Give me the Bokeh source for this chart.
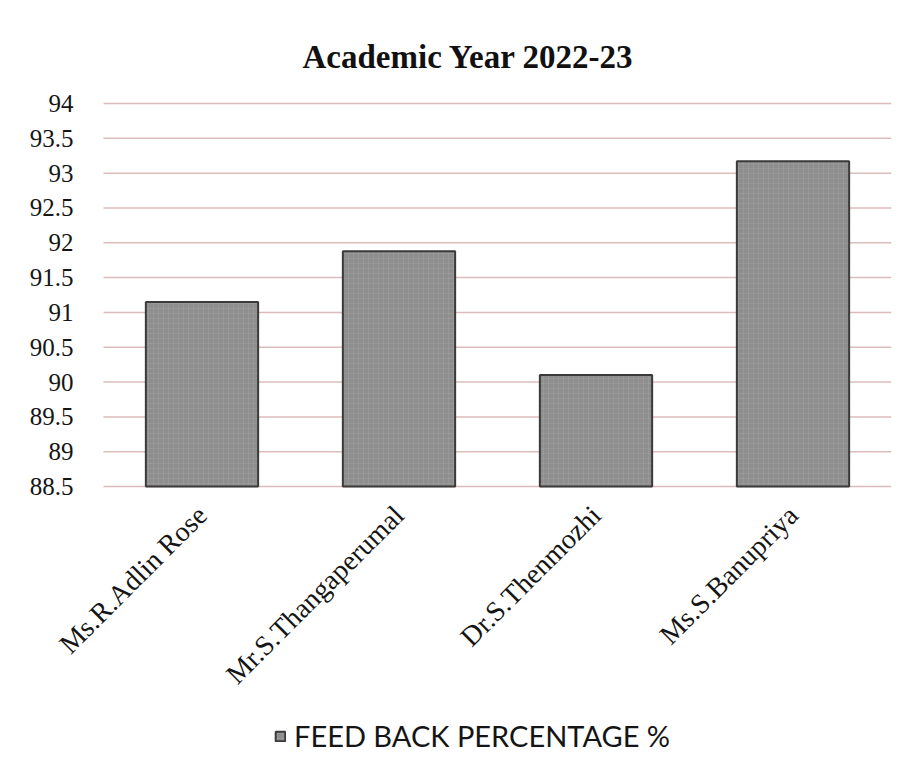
from bokeh.plotting import figure
from bokeh.models import ColumnDataSource, FixedTicker, Legend, LegendItem, Range1d
from bokeh.embed import file_html
from bokeh.resources import INLINE
from math import pi

names = ["Ms.R.Adlin Rose", "Mr.S.Thangaperumal", "Dr.S.Thenmozhi", "Ms.S.Banupriya"]
feedback = [91.15, 91.88, 90.10, 93.17]
y_ticks = [88.5, 89, 89.5, 90, 90.5, 91, 91.5, 92, 92.5, 93, 93.5, 94]
y_tick_labels = ["88.5", "89", "89.5", "90", "90.5", "91", "91.5", "92", "92.5", "93", "93.5", "94"]
series_name = "FEED BACK PERCENTAGE %"
title_text = "Academic Year 2022-23"
baseline = 88.5

# category slots: slot i is centred on i + 0.5
n = len(names)
x_pos = [i + 0.5 for i in range(n)]

# the frame covers the whole canvas (left of the first slot, above 94 and below the baseline)
# so that the tick labels, rotated labels and the legend are never clipped
x_left = -0.5228
y_top = 94.187
y_bottom = 84.623

src = ColumnDataSource(dict(x=x_pos, top=feedback, bottom=[baseline] * n))
grid_src = ColumnDataSource(dict(x0=[0] * len(y_ticks), x1=[n] * len(y_ticks), y=y_ticks))

p = figure(width=892, height=756, x_range=Range1d(x_left, n),
           y_range=Range1d(y_bottom, y_top),
           output_backend="svg", toolbar_location=None,
           min_border_left=0, min_border_right=1, min_border_top=90, min_border_bottom=0)

p.title.text = title_text
p.title.align = "left"
p.title.offset = 302
p.title.text_font = "Liberation Serif"
p.title.text_font_size = "33px"
p.title.text_font_style = "bold"
p.title.text_color = "#111111"
p.title.standoff = 32

# horizontal grid lines over the category span only
p.segment(x0="x0", x1="x1", y0="y", y1="y", source=grid_src,
          line_color="#dcbcbc", line_width=1.5)

r = p.vbar(x="x", top="top", bottom="bottom", width=0.57, source=src,
           fill_color="#8e8e8e", line_color="#3a3a3a", line_width=2,
           hatch_pattern="cross", hatch_color="#a8a8a8", hatch_scale=5, hatch_weight=0.6, hatch_alpha=0.6)

p.yaxis.fixed_location = 0
p.yaxis.ticker = FixedTicker(ticks=y_ticks)
p.yaxis.major_label_overrides = {t: l for t, l in zip(y_ticks, y_tick_labels)}
p.yaxis.axis_line_color = None
p.yaxis.major_tick_line_color = None
p.yaxis.minor_tick_line_color = None
p.yaxis.major_label_standoff = 24
p.yaxis.major_label_text_font = "Liberation Serif"
p.yaxis.major_label_text_font_size = "25px"
p.yaxis.major_label_text_color = "#151515"

p.xaxis.fixed_location = baseline
p.xaxis.ticker = FixedTicker(ticks=x_pos)
p.xaxis.major_label_overrides = {x: s for x, s in zip(x_pos, names)}
p.xaxis.axis_line_color = None
p.xaxis.major_tick_line_color = None
p.xaxis.minor_tick_line_color = None
p.xaxis.major_label_orientation = pi / 4
p.xaxis.major_label_standoff = 18
p.xaxis.major_label_text_font = "Liberation Serif"
p.xaxis.major_label_text_font_size = "28px"
p.xaxis.major_label_text_color = "#151515"

p.xgrid.grid_line_color = None
p.ygrid.grid_line_color = None
p.outline_line_color = None
p.background_fill_color = "white"
p.border_fill_color = "white"

legend = Legend(items=[LegendItem(label=series_name, renderers=[r])],
                location=(274, 3), orientation="horizontal",
                label_text_font="Lato", label_text_font_size="29px", label_text_color="#151515",
                glyph_width=12, glyph_height=12, label_standoff=8,
                padding=0, margin=0, border_line_color=None, background_fill_alpha=0)
p.add_layout(legend, "center")

open("out.html", "w").write(file_html(p, INLINE))
